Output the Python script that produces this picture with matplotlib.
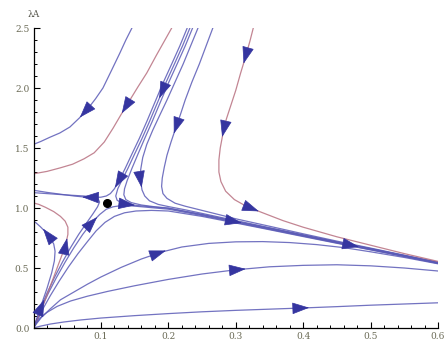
import matplotlib
matplotlib.use("Agg")
import matplotlib.pyplot as plt
from matplotlib.ticker import MultipleLocator, FixedLocator
import numpy as np

# trajectories (x, lambda_A)
top_left_x = [0.146, 0.137, 0.128, 0.116, 0.103, 0.092, 0.081, 0.068, 0.054, 0.039, 0.0245, 0.011, 0.0]
top_left_y = [2.5, 2.4, 2.29, 2.15, 2.0, 1.91, 1.83, 1.75, 1.675, 1.625, 1.59, 1.555, 1.53]

top_red_x = [0.205, 0.195, 0.182, 0.168, 0.155, 0.143, 0.13, 0.118, 0.105, 0.09, 0.075, 0.058, 0.04, 0.02, 0.0]
top_red_y = [2.5, 2.4, 2.27, 2.125, 2.01, 1.9, 1.78, 1.665, 1.55, 1.46, 1.41, 1.365, 1.335, 1.305, 1.285]

b1_x = [0.228, 0.217, 0.205, 0.192, 0.18, 0.168, 0.157, 0.146, 0.136, 0.127, 0.12, 0.114, 0.108, 0.1, 0.09, 0.078, 0.06, 0.04, 0.02, 0.0]
b1_y = [2.5, 2.35, 2.2, 2.04, 1.88, 1.72, 1.58, 1.45, 1.33, 1.23, 1.16, 1.12, 1.1, 1.09, 1.088, 1.09, 1.1, 1.115, 1.13, 1.148]

b2_x = [0.232, 0.221, 0.209, 0.196, 0.184, 0.172, 0.161, 0.15, 0.14, 0.131, 0.125, 0.122, 0.124, 0.13, 0.14, 0.155, 0.175, 0.2, 0.25, 0.3, 0.35, 0.4, 0.45, 0.5, 0.55, 0.6]
b2_y = [2.5, 2.35, 2.2, 2.04, 1.88, 1.72, 1.58, 1.45, 1.33, 1.23, 1.16, 1.1, 1.065, 1.045, 1.03, 1.02, 1.01, 0.997, 0.943, 0.885, 0.828, 0.77, 0.713, 0.657, 0.6, 0.543]

b3_x = [0.236, 0.225, 0.213, 0.2, 0.188, 0.176, 0.165, 0.155, 0.146, 0.139, 0.135, 0.134, 0.137, 0.145, 0.16, 0.18, 0.2, 0.25, 0.3, 0.35, 0.4, 0.45, 0.5, 0.55, 0.6]
b3_y = [2.5, 2.35, 2.2, 2.04, 1.88, 1.72, 1.58, 1.45, 1.33, 1.23, 1.16, 1.11, 1.07, 1.045, 1.025, 1.01, 1.0, 0.947, 0.89, 0.832, 0.774, 0.716, 0.66, 0.603, 0.546]

b4_x = [0.244, 0.233, 0.222, 0.21, 0.198, 0.187, 0.177, 0.168, 0.162, 0.159, 0.159, 0.161, 0.165, 0.172, 0.185, 0.2, 0.225, 0.25, 0.3, 0.35, 0.4, 0.45, 0.5, 0.55, 0.6]
b4_y = [2.5, 2.35, 2.2, 2.05, 1.9, 1.77, 1.65, 1.53, 1.42, 1.32, 1.22, 1.15, 1.1, 1.06, 1.03, 1.012, 0.985, 0.955, 0.895, 0.836, 0.777, 0.718, 0.662, 0.604, 0.547]

b5_x = [0.266, 0.256, 0.246, 0.235, 0.225, 0.218, 0.211, 0.204, 0.198, 0.194, 0.191, 0.19, 0.192, 0.198, 0.21, 0.225, 0.25, 0.3, 0.35, 0.4, 0.45, 0.5, 0.55, 0.6]
b5_y = [2.5, 2.35, 2.2, 2.05, 1.9, 1.78, 1.667, 1.55, 1.44, 1.34, 1.25, 1.18, 1.12, 1.08, 1.04, 1.015, 0.98, 0.91, 0.848, 0.785, 0.724, 0.666, 0.607, 0.548]

right_red_x = [0.326, 0.321, 0.314, 0.307, 0.3, 0.293, 0.286, 0.281, 0.277, 0.275, 0.275, 0.278, 0.285, 0.298, 0.317, 0.34, 0.37, 0.4, 0.45, 0.5, 0.55, 0.6]
right_red_y = [2.5, 2.39, 2.25, 2.12, 1.98, 1.86, 1.74, 1.62, 1.5, 1.4, 1.3, 1.22, 1.14, 1.07, 1.01, 0.96, 0.895, 0.84, 0.76, 0.69, 0.62, 0.555]

f1_x = [0.0, 0.005, 0.012, 0.022, 0.034, 0.047, 0.06, 0.073, 0.086, 0.098, 0.108, 0.118, 0.13, 0.145, 0.165, 0.2, 0.25, 0.3, 0.35, 0.4, 0.45, 0.5, 0.55, 0.6]
f1_y = [0.0, 0.07, 0.17, 0.29, 0.42, 0.55, 0.67, 0.78, 0.875, 0.945, 0.99, 1.01, 1.02, 1.018, 1.008, 0.99, 0.937, 0.88, 0.823, 0.766, 0.709, 0.653, 0.597, 0.54]

f2_x = [0.0, 0.005, 0.011, 0.02, 0.031, 0.043, 0.055, 0.067, 0.078, 0.088, 0.095, 0.098, 0.096, 0.088, 0.075, 0.06, 0.04, 0.02, 0.0]
f2_y = [0.0, 0.07, 0.17, 0.29, 0.42, 0.55, 0.67, 0.78, 0.87, 0.95, 1.01, 1.05, 1.075, 1.09, 1.1, 1.105, 1.112, 1.12, 1.128]

f3_x = [0.0, 0.006, 0.014, 0.025, 0.038, 0.052, 0.066, 0.08, 0.093, 0.106, 0.12, 0.135, 0.152, 0.175, 0.2, 0.25, 0.3, 0.35, 0.4, 0.45, 0.5, 0.55, 0.6]
f3_y = [0.0, 0.065, 0.16, 0.27, 0.39, 0.51, 0.62, 0.72, 0.81, 0.88, 0.93, 0.96, 0.975, 0.98, 0.975, 0.93, 0.875, 0.819, 0.762, 0.706, 0.651, 0.595, 0.538]

left_red_x = [0.0, 0.006, 0.015, 0.025, 0.035, 0.043, 0.048, 0.051, 0.051, 0.047, 0.04, 0.03, 0.018, 0.008, 0.0]
left_red_y = [0.0, 0.08, 0.2, 0.35, 0.5, 0.62, 0.7, 0.78, 0.84, 0.89, 0.93, 0.97, 1.005, 1.03, 1.042]

l1_x = [0.0, 0.005, 0.012, 0.02, 0.027, 0.031, 0.032, 0.03, 0.025, 0.018, 0.01, 0.004, 0.0]
l1_y = [0.0, 0.08, 0.2, 0.33, 0.46, 0.56, 0.64, 0.7, 0.75, 0.8, 0.845, 0.875, 0.892]

o3_x = [0.0, 0.005, 0.012, 0.025, 0.04, 0.06, 0.08, 0.1, 0.13, 0.16, 0.19, 0.22, 0.26, 0.3, 0.34, 0.38, 0.42, 0.46, 0.5, 0.55, 0.6]
o3_y = [0.0, 0.04, 0.09, 0.16, 0.235, 0.3, 0.365, 0.425, 0.505, 0.575, 0.633, 0.675, 0.705, 0.718, 0.72, 0.712, 0.695, 0.67, 0.635, 0.588, 0.535]

o2_x = [0.0, 0.004, 0.01, 0.02, 0.035, 0.055, 0.08, 0.11, 0.15, 0.2, 0.25, 0.3, 0.35, 0.4, 0.45, 0.5, 0.55, 0.6]
o2_y = [0.0, 0.04, 0.085, 0.13, 0.18, 0.225, 0.265, 0.305, 0.352, 0.405, 0.45, 0.485, 0.51, 0.522, 0.527, 0.518, 0.5, 0.475]

o1_x = [0.0, 0.01, 0.025, 0.045, 0.07, 0.1, 0.15, 0.2, 0.25, 0.3, 0.35, 0.4, 0.45, 0.5, 0.55, 0.6]
o1_y = [0.0, 0.015, 0.033, 0.05, 0.067, 0.083, 0.103, 0.12, 0.135, 0.147, 0.157, 0.167, 0.178, 0.19, 0.2, 0.21]

# fixed point (saddle)
saddle_x = 0.109
saddle_y = 1.04

BLUE = "#5a5ab6"
RED = "#b87080"
HEAD = "#3535a0"

# (curve, colour, arrow positions)
curves = [
    (top_left_x, top_left_y, BLUE, [(0.075, 1.79)]),
    (top_red_x, top_red_y, RED, [(0.139, 1.82)]),
    (b1_x, b1_y, BLUE, [(0.126, 1.21), (0.081, 1.088)]),
    (b2_x, b2_y, BLUE, [(0.19, 1.96), (0.142, 1.03), (0.3, 0.885), (0.474, 0.686)]),
    (b3_x, b3_y, BLUE, []),
    (b4_x, b4_y, BLUE, [(0.16, 1.22)]),
    (b5_x, b5_y, BLUE, [(0.211, 1.667)]),
    (right_red_x, right_red_y, RED, [(0.315, 2.25), (0.282, 1.64), (0.326, 0.99)]),
    (f1_x, f1_y, BLUE, [(0.088, 0.89)]),
    (f2_x, f2_y, BLUE, [(0.013, 0.19)]),
    (f3_x, f3_y, BLUE, []),
    (left_red_x, left_red_y, RED, [(0.048, 0.7)]),
    (l1_x, l1_y, BLUE, [(0.02, 0.79)]),
    (o3_x, o3_y, BLUE, [(0.188, 0.63)]),
    (o2_x, o2_y, BLUE, [(0.306, 0.485)]),
    (o1_x, o1_y, BLUE, [(0.40, 0.167)]),
]

fig = plt.figure(figsize=(4.45, 3.41), dpi=100)
ax = fig.add_axes([33.5 / 445, 13 / 341, (438 - 33.5) / 445, 300 / 341])
ax.set_xlim(0, 0.6)
ax.set_ylim(0, 2.5)

px_x = (438 - 33.5) / 0.6
px_y = 300 / 2.5


def arrow_on(xs, ys, p):
    xs = np.asarray(xs)
    ys = np.asarray(ys)
    best = None
    for i in range(len(xs) - 1):
        ax0, ay0 = xs[i] * px_x, ys[i] * px_y
        dx, dy = (xs[i + 1] - xs[i]) * px_x, (ys[i + 1] - ys[i]) * px_y
        qx, qy = p[0] * px_x, p[1] * px_y
        L2 = dx * dx + dy * dy
        t = min(1, max(0, ((qx - ax0) * dx + (qy - ay0) * dy) / L2))
        cx, cy = ax0 + t * dx, ay0 + t * dy
        d = (cx - qx) ** 2 + (cy - qy) ** 2
        if best is None or d < best[0]:
            best = (d, cx, cy, dx, dy)
    _, cx, cy, dx, dy = best
    n = np.hypot(dx, dy)
    ux, uy = dx / n, dy / n
    tip = ((cx + 6 * ux) / px_x, (cy + 6 * uy) / px_y)
    tail = ((cx - 1 * ux) / px_x, (cy - 1 * uy) / px_y)
    ax.annotate("", xy=tip, xytext=tail,
                arrowprops=dict(arrowstyle="-|>,head_length=0.55,head_width=0.19",
                                mutation_scale=20, color=HEAD, lw=0.5,
                                shrinkA=0, shrinkB=0),
                zorder=4)


for xs, ys, col, arrows in curves:
    ax.plot(xs, ys, color=col, lw=0.9, alpha=0.85, solid_capstyle="round", zorder=2)
    for p in arrows:
        arrow_on(xs, ys, p)

ax.plot(saddle_x, saddle_y, "o", color="black", markersize=5.5, zorder=5)

for s in ["top", "right"]:
    ax.spines[s].set_visible(False)
ax.spines["left"].set_linewidth(0.9)
ax.spines["bottom"].set_linewidth(0.9)

ax.xaxis.set_major_locator(FixedLocator([0.1, 0.2, 0.3, 0.4, 0.5, 0.6]))
ax.xaxis.set_minor_locator(MultipleLocator(0.02))
ax.yaxis.set_major_locator(MultipleLocator(0.5))
ax.yaxis.set_minor_locator(MultipleLocator(0.1))
ax.tick_params(which="major", direction="in", length=4, width=0.8,
               labelsize=6.5, labelcolor="#6a6a55", pad=3)
ax.tick_params(which="minor", direction="in", length=2.5, width=0.7)
ax.set_xticklabels(["0.1", "0.2", "0.3", "0.4", "0.5", "0.6"], family="DejaVu Serif")
ax.set_yticks([0.0, 0.5, 1.0, 1.5, 2.0, 2.5])
ax.set_yticklabels(["0.0", "0.5", "1.0", "1.5", "2.0", "2.5"], family="DejaVu Serif")

ax.text(0.0, 2.61, "λA", ha="center", va="center", fontsize=6.5,
        color="#55554a", family="DejaVu Serif", clip_on=False)

fig.savefig("out.png", dpi=100)
